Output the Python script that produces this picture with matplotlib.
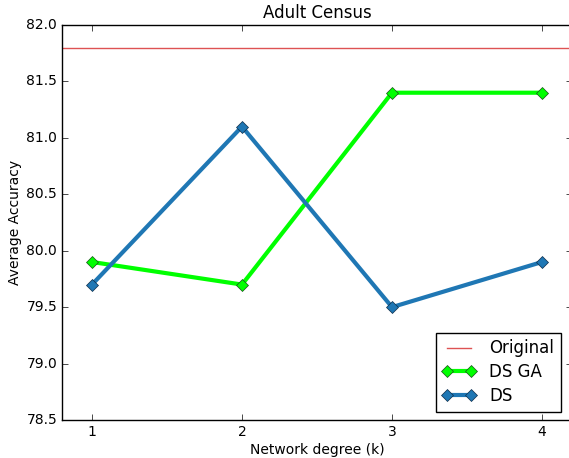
import matplotlib
matplotlib.use("Agg")
import matplotlib.pyplot as plt

plt.style.use('classic')

k = [1, 2, 3, 4]
ds_ga = [79.9, 79.7, 81.4, 81.4]
ds = [79.7, 81.1, 79.5, 79.9]
original = 81.8
yticks = [78.5, 79.0, 79.5, 80.0, 80.5, 81.0, 81.5, 82.0]

fig = plt.figure(figsize=(5.69, 4.58), dpi=100, facecolor='white')
ax = fig.add_axes([62/569, 38/458, 510/569, 395/458])
ax.set_facecolor('white')

ax.axhline(original, color='#d62728', lw=1, label='Original', alpha=0.8)
ax.plot(k, ds_ga, color='#00ff00', lw=3, marker='D', markersize=6,
        markerfacecolor='#00ff00', markeredgecolor='#1a4d1a', label='DS GA')
ax.plot(k, ds, color='#1f77b4', lw=3, marker='D', markersize=6,
        markerfacecolor='#1f77b4', markeredgecolor='#0d2e4a', label='DS')

ax.set_xlim(0.8, 4.2)
ax.set_ylim(78.5, 82.0)
ax.set_xticks(k)
ax.set_yticks(yticks)
ax.set_yticklabels([f'{v:.1f}' for v in yticks])
ax.tick_params(labelsize=10, pad=3.5)
ax.set_xlabel('Network degree (k)', fontsize=10, labelpad=3)
ax.set_ylabel('Average Accuracy', fontsize=10, labelpad=3)
ax.set_title('Adult Census', fontsize=12)
ax.legend(loc='lower right', fontsize=12, numpoints=2, labelspacing=0.35,
          bbox_to_anchor=(1 - 3/510, 0))

fig.savefig('out.png', dpi=100, facecolor='white')
